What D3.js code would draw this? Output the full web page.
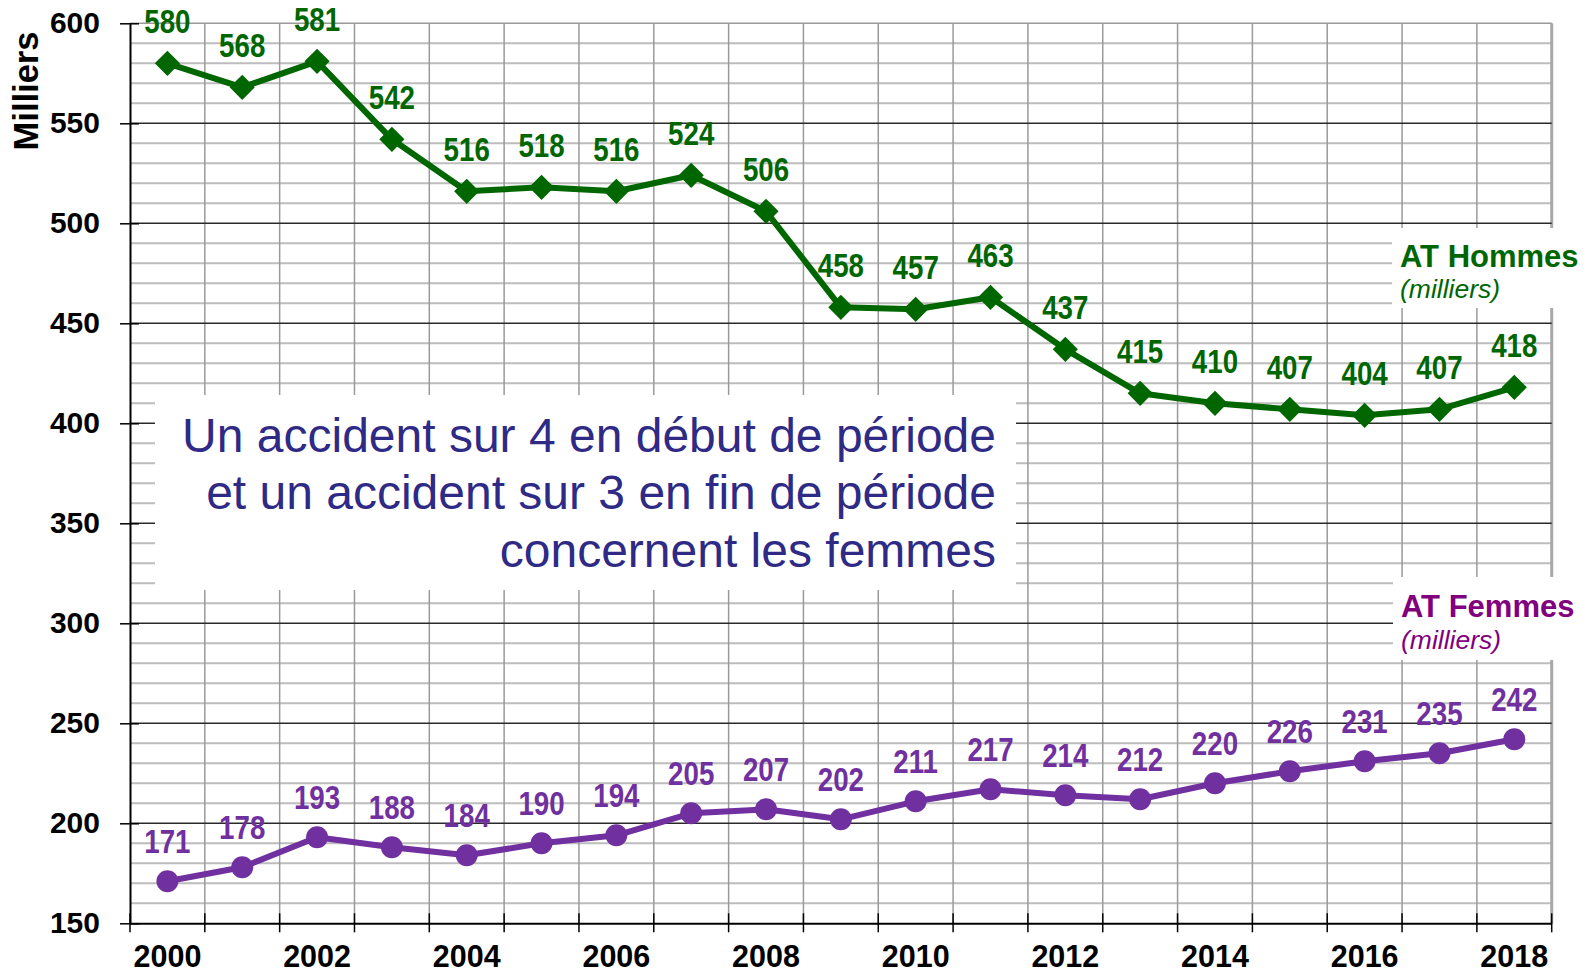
<!DOCTYPE html>
<html>
<head>
<meta charset="utf-8">
<script src="https://cdn.jsdelivr.net/npm/d3@7"></script>
<style>
  html, body { margin: 0; padding: 0; background: #fff; }
  svg { display: block; }
</style>
</head>
<body>
<script>
const years = [2000,2001,2002,2003,2004,2005,2006,2007,2008,2009,2010,2011,2012,2013,2014,2015,2016,2017,2018];
const hommes = [580,568,581,542,516,518,516,524,506,458,457,463,437,415,410,407,404,407,418];
const femmes = [171,178,193,188,184,190,194,205,207,202,211,217,214,212,220,226,231,235,242];
const yTickLabels = [150,200,250,300,350,400,450,500,550,600];
const xTickLabels = [2000,2002,2004,2006,2008,2010,2012,2014,2016,2018];
const annotationLines = ["Un accident sur 4 en début de période","et un accident sur 3 en fin de période","concernent les femmes"];

const W = 1591, H = 974;
const pLeft = 130, pRight = 1551.7, pTop = 23.3, pBottom = 923.3;
const green = "#006600", purple = "#7030A0", purpleLegend = "#800080", annColor = "#2E2A86";
const font = "'Liberation Sans', Arial, sans-serif";

const svg = d3.select("body").append("svg").attr("width", W).attr("height", H);

const x = d3.scaleBand().domain(years).range([pLeft, pRight]);
const y = d3.scaleLinear().domain([150, 600]).range([pBottom, pTop]);

// minor horizontal gridlines
const minor = d3.range(150, 601, 10).filter(v => v % 50 !== 0);
svg.append("g").selectAll("line").data(minor).join("line")
  .attr("x1", pLeft).attr("x2", pRight)
  .attr("y1", d => y(d)).attr("y2", d => y(d))
  .attr("stroke", "#bdbdbd").attr("stroke-width", 2);

// vertical gridlines at band boundaries
const bounds = years.map(d => x(d)).concat([x.range()[1]]);
svg.append("g").selectAll("line").data(bounds.slice(1)).join("line")
  .attr("x1", d => d).attr("x2", d => d)
  .attr("y1", pTop).attr("y2", pBottom)
  .attr("stroke", (d, i) => i === bounds.length - 2 ? "#a8a8a8" : "#9a9a9a")
  .attr("stroke-width", (d, i) => i === bounds.length - 2 ? 3 : 1.5);

// major horizontal gridlines
svg.append("g").selectAll("line").data(yTickLabels.filter(v => v > 150 && v < 600)).join("line")
  .attr("x1", pLeft).attr("x2", pRight)
  .attr("y1", d => y(d)).attr("y2", d => y(d))
  .attr("stroke", "#2a2a2a").attr("stroke-width", 1.5);
// top line
svg.append("line").attr("x1", pLeft).attr("x2", pRight).attr("y1", y(600)).attr("y2", y(600))
  .attr("stroke", "#9a9a9a").attr("stroke-width", 1.5);

// annotation box
svg.append("rect").attr("x", 155).attr("y", 395).attr("width", 861).attr("height", 195).attr("fill", "#fff");
// legend boxes
svg.append("rect").attr("x", 1392).attr("y", 228).attr("width", 199).attr("height", 80).attr("fill", "#fff");
svg.append("rect").attr("x", 1393).attr("y", 577).attr("width", 198).attr("height", 83).attr("fill", "#fff");

// Y axis
const yAxis = svg.append("g").attr("transform", `translate(${pLeft},0)`)
  .call(d3.axisLeft(y).tickValues(yTickLabels).tickSizeInner(10).tickSizeOuter(0).tickPadding(20));
yAxis.select(".domain").attr("stroke", "#000").attr("stroke-width", 2);
yAxis.selectAll(".tick line").attr("x1", 9).attr("x2", -10).attr("stroke", "#000").attr("stroke-width", 1.5);
yAxis.selectAll(".tick text").attr("font-family", font).attr("font-weight", "bold")
  .attr("font-size", 30).attr("fill", "#000");

// X axis
const xAxis = svg.append("g").attr("transform", `translate(0,${pBottom})`)
  .call(d3.axisBottom(x).tickValues(xTickLabels).tickSize(0).tickPadding(22.5));
xAxis.select(".domain").attr("stroke", "#000").attr("stroke-width", 2);
xAxis.selectAll(".tick text").attr("font-family", font).attr("font-weight", "bold")
  .attr("font-size", 30.5).attr("fill", "#000");
svg.append("g").selectAll("line").data(bounds).join("line")
  .attr("x1", d => d).attr("x2", d => d)
  .attr("y1", pBottom - 10).attr("y2", pBottom + 9)
  .attr("stroke", "#000").attr("stroke-width", 1.5);

// axis title
svg.append("text").attr("transform", "translate(38,91) rotate(-90)")
  .attr("text-anchor", "middle").attr("font-family", font).attr("font-weight", "bold")
  .attr("font-size", 34.5).attr("fill", "#000").text("Milliers");

// annotation text
svg.append("g").selectAll("text").data(annotationLines).join("text")
  .attr("x", 996).attr("y", (d, i) => 451.7 + i * 57.5)
  .attr("text-anchor", "end").attr("font-family", font).attr("font-size", 48)
  .attr("fill", annColor).text(d => d);

// legends
svg.append("text").attr("x", 1400).attr("y", 267).attr("font-family", font).attr("font-weight", "bold")
  .attr("font-size", 31).attr("fill", green).text("AT Hommes");
svg.append("text").attr("x", 1400).attr("y", 298).attr("font-family", font).attr("font-style", "italic")
  .attr("font-size", 26.5).attr("fill", green).text("(milliers)");
svg.append("text").attr("x", 1401).attr("y", 617).attr("font-family", font).attr("font-weight", "bold")
  .attr("font-size", 31).attr("fill", purpleLegend).text("AT Femmes");
svg.append("text").attr("x", 1401).attr("y", 649).attr("font-family", font).attr("font-style", "italic")
  .attr("font-size", 26.5).attr("fill", purpleLegend).text("(milliers)");

const cx = d => x(d) + x.bandwidth() / 2;
const line = d3.line().x(d => cx(d[0])).y(d => y(d[1]));

function series(vals, color, marker, offset) {
  const data = years.map((yr, i) => [yr, vals[i]]);
  svg.append("path").datum(data).attr("d", line).attr("fill", "none")
    .attr("stroke", color).attr("stroke-width", 6).attr("stroke-linejoin", "round");
  const g = svg.append("g");
  if (marker === "diamond") {
    g.selectAll("path").data(data).join("path")
      .attr("d", d3.symbol().type(d3.symbolSquare).size(2 * 8.9 * 8.9 * 2))
      .attr("transform", d => `translate(${cx(d[0])},${y(d[1])}) rotate(45)`)
      .attr("fill", color);
  } else {
    g.selectAll("circle").data(data).join("circle")
      .attr("cx", d => cx(d[0])).attr("cy", d => y(d[1])).attr("r", 11)
      .attr("fill", color);
  }
  svg.append("g").selectAll("text").data(data).join("text")
    .attr("transform", d => `translate(${cx(d[0])},${y(d[1]) - offset}) scale(0.84,1)`)
    .attr("text-anchor", "middle").attr("font-family", font).attr("font-weight", "bold")
    .attr("font-size", 33).attr("fill", color).text(d => d[1]);
}
series(hommes, green, "diamond", 30.5);
series(femmes, purple, "circle", 28.5);
</script>
</body>
</html>
